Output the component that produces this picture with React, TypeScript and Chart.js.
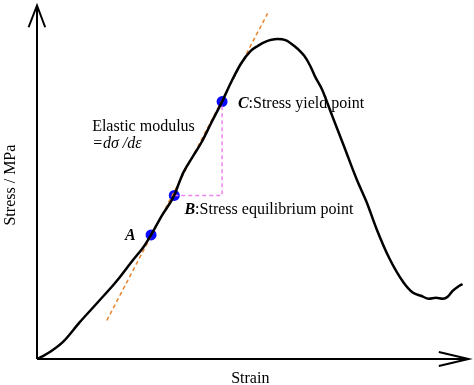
import React, { useEffect, useRef } from "react";
import { Chart, registerables } from "chart.js";

Chart.register(...registerables);

// Stress-strain curve (arbitrary units: strain 0..10, stress 0..100)
const strain = [0, 0.138, 0.298, 0.596, 0.986, 1.399, 1.789, 1.904, 2.202, 2.477, 2.644, 2.89, 3.181, 3.28, 3.394, 3.624, 3.807, 4.037, 4.289, 4.495, 4.725, 4.954, 5.115, 5.275, 5.573, 5.757, 5.963, 6.193, 6.33, 6.445, 6.606, 6.835, 7.11, 7.408, 7.638, 7.867, 8.165, 8.486, 8.716, 8.899, 9.083, 9.243, 9.404, 9.518, 9.633, 9.748, 9.862];
const stress = [0, 0.84, 1.96, 4.75, 10.34, 15.92, 21.23, 22.91, 27.65, 31.84, 35.11, 40.5, 46.28, 49.44, 52.79, 57.54, 61.17, 66.76, 72.82, 78.21, 83.52, 87.15, 88.55, 89.66, 90.5, 90.22, 88.55, 85.75, 82.96, 79.89, 76.26, 68.99, 60.34, 50.84, 44.41, 36.87, 28.49, 21.79, 18.72, 17.88, 17.04, 17.32, 17.04, 17.6, 19.27, 20.39, 21.23];

// Elastic modulus tangent line
const tangentStrain = [1.617, 5.344];
const tangentStress = [10.89, 97.77];

// Marked points
const pointNames = ["A", "B", "C"];
const pointDescriptions = ["", ":Stress equilibrium point", ":Stress yield point"];
const pointStrain = [2.644, 3.181, 4.289];
const pointStress = [35.11, 46.28, 72.82];

// dσ / dε triangle (B -> corner -> C)
const triangleStrain = [3.181, 4.289, 4.289];
const triangleStress = [46.28, 46.28, 72.82];

// Axes extents
const strainMax = 10;
const stressMax = 100;

const xTitle = "Strain";
const yTitle = "Stress / MPa";
const modulusLines = ["Elastic modulus", "=dσ /dε"];

// label anchors (data coords)
const labelStrain = [2.041, 3.417, 4.656];
const labelStress = [33.72, 41.15, 70.95];
const modulusAnchorStrain = 1.278;
const modulusAnchorStress = [64.44, 59.78];

const zip = (xs: number[], ys: number[]) => xs.map((x, i) => ({ x, y: ys[i] }));

const SERIF = '"Liberation Serif", "Times New Roman", serif';

const textPlugin = {
  id: "annotText",
  afterDatasetsDraw(chart: any) {
    const { ctx } = chart;
    const xs = chart.scales.x;
    const ys = chart.scales.y;
    const px = (v: number) => xs.getPixelForValue(v);
    const py = (v: number) => ys.getPixelForValue(v);
    ctx.save();
    ctx.fillStyle = "#000";
    ctx.textBaseline = "alphabetic";
    ctx.textAlign = "left";
    pointNames.forEach((n, i) => {
      let x = px(labelStrain[i]);
      const y = py(labelStress[i]);
      ctx.font = `italic bold 16px ${SERIF}`;
      ctx.fillText(n, x, y);
      x += ctx.measureText(n).width;
      if (pointDescriptions[i]) {
        ctx.font = `16px ${SERIF}`;
        ctx.fillText(pointDescriptions[i], x, y);
      }
    });
    ctx.font = `16px ${SERIF}`;
    ctx.fillText(modulusLines[0], px(modulusAnchorStrain), py(modulusAnchorStress[0]));
    ctx.font = `italic 16px ${SERIF}`;
    ctx.fillText(modulusLines[1], px(modulusAnchorStrain), py(modulusAnchorStress[1]));
    ctx.font = `16px ${SERIF}`;
    ctx.textAlign = "center";
    ctx.fillText(xTitle, px(strainMax * 0.4943), py(-6.7));
    ctx.translate(px(-0.6), py(49.2));
    ctx.rotate(-Math.PI / 2);
    ctx.textBaseline = "middle";
    ctx.fillText(yTitle, 0, 0);
    ctx.restore();
  },
};

export default function App() {
  const ref = useRef<HTMLCanvasElement | null>(null);
  useEffect(() => {
    if (!ref.current) return;
    const line = (data: any[], extra: any = {}) => ({
      data,
      showLine: true,
      borderColor: "#000",
      borderWidth: 2,
      pointRadius: 0,
      clip: false as any,
      ...extra,
    });
    const chart = new Chart(ref.current, {
      type: "scatter",
      data: {
        datasets: [
          line(zip([0, strainMax], [0, 0])),
          line(zip([0, 0], [0, stressMax])),
          line(zip([strainMax * 0.9312, strainMax, strainMax * 0.9312], [1.96, 0, -1.96])),
          line(zip([-0.195, 0, 0.19], [stressMax * 0.9385, stressMax, stressMax * 0.9385])),
          line(zip(strain, stress), { borderWidth: 2.5, cubicInterpolationMode: "monotone" }),
          line(zip(tangentStrain, tangentStress), { borderColor: "#e8842e", borderWidth: 1.5, borderDash: [4, 3] }),
          line(zip(triangleStrain, triangleStress), { borderColor: "#ee82ee", borderWidth: 1.5, borderDash: [4, 3] }),
          {
            data: zip(pointStrain, pointStress),
            showLine: false,
            backgroundColor: "#0a0aff",
            borderColor: "#0a0aff",
            pointRadius: 5.5,
            pointBorderWidth: 0,
            clip: false as any,
          },
        ],
      },
      options: {
        animation: false,
        responsive: false,
        devicePixelRatio: 1,
        events: [],
        layout: { padding: { left: 37, right: 1, top: 1, bottom: 26 } },
        plugins: { legend: { display: false }, tooltip: { enabled: false } },
        scales: {
          x: { type: "linear", min: 0, max: strainMax, display: false },
          y: { type: "linear", min: 0, max: stressMax, display: false },
        },
      },
      plugins: [textPlugin],
    });
    return () => chart.destroy();
  }, []);
  return (
    <div style={{ position: "fixed", left: 0, top: 0, width: 474, height: 385, background: "#fff" }}>
      <canvas ref={ref} width={474} height={385} />
    </div>
  );
}
